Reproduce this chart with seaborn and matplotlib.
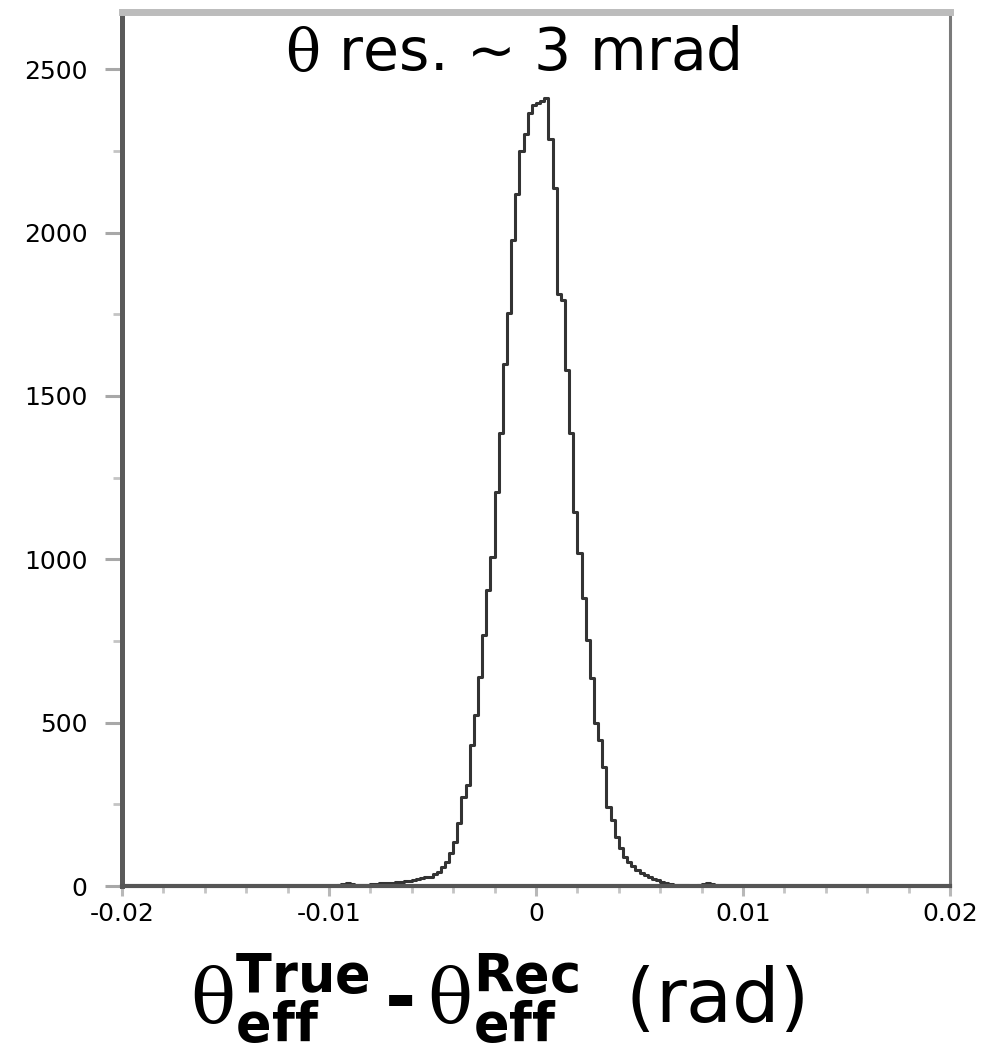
import numpy as np
import pandas as pd
import matplotlib
matplotlib.use("Agg")
import matplotlib.pyplot as plt
from matplotlib.ticker import MultipleLocator
import seaborn as sns

# ---------------- data ----------------
bin_width = 0.0002
range_lo, range_hi = -0.02, 0.02
core_lo = -0.0100  # first bin of the non-empty core region

counts_left = [0, 0, 2, 6, 10, 6, 3, 3, 4, 4,
               5, 6, 9, 10, 9, 10, 11, 12, 14, 16,
               18, 21, 24, 27, 29, 37, 43, 58, 73, 101,
               135, 193, 272, 309, 431, 523, 639, 768, 905, 1006,
               1205, 1388, 1599, 1755, 1976, 2119, 2251, 2303, 2367, 2391]
counts_right = [2395, 2404, 2413, 2287, 2135, 1813, 1795, 1578, 1388, 1144,
                1018, 881, 752, 636, 498, 446, 364, 242, 202, 150,
                115, 90, 72, 60, 50, 40, 33, 27, 22, 18,
                13, 9, 6, 4, 3, 2, 2, 1, 1, 2,
                6, 9, 5, 2, 1, 0, 0, 0, 0, 0]

yticks = [0, 500, 1000, 1500, 2000, 2500]
xticks = [-0.02, -0.01, 0.0, 0.01, 0.02]
xtick_labels = ["-0.02", "-0.01", "0", "0.01", "0.02"]
title_text = r"$\mathrm{\theta}$ res. ~ 3 mrad"
xlabel_text = (r"$\mathrm{\theta}_{\mathbf{eff}}^{\mathbf{True}}\,\mathbf{" + "\u2010" +
               r"}\,\mathrm{\theta}_{\mathbf{eff}}^{\mathbf{Rec}}\;$ (rad)")

# ---------------- build the histogram table ----------------
n_total = int(round((range_hi - range_lo) / bin_width))
edges = np.linspace(range_lo, range_hi, n_total + 1)
core = np.array(counts_left + counts_right, dtype=float)
start = int(round((core_lo - range_lo) / bin_width))
weights = np.zeros(n_total)
weights[start:start + len(core)] = core
centers = 0.5 * (edges[:-1] + edges[1:])
df = pd.DataFrame({"dtheta": centers, "n": weights})

# ---------------- figure ----------------
sns.set_style("ticks")
plt.rcParams["font.family"] = ["DejaVu Sans"]
plt.rcParams["mathtext.fontset"] = "custom"
plt.rcParams["mathtext.rm"] = "DejaVu Serif"
plt.rcParams["mathtext.it"] = "DejaVu Serif:italic"
plt.rcParams["mathtext.bf"] = "DejaVu Sans:bold"
plt.rcParams["mathtext.sf"] = "DejaVu Sans"

fig = plt.figure(figsize=(9.89, 10.55), dpi=100)
ax = fig.add_axes([122 / 989, 1 - 886 / 1055, (950 - 122) / 989, (886 - 12) / 1055])

sns.histplot(data=df, x="dtheta", weights="n", bins=n_total,
             binrange=(range_lo, range_hi), element="step",
             fill=False, color="#333333", linewidth=2.2, ax=ax)

ax.set_xlim(range_lo, range_hi)
ax.set_ylim(0, 2675)
ax.set_xticks(xticks)
ax.set_xticklabels(xtick_labels)
ax.set_yticks(yticks)
ax.xaxis.set_minor_locator(MultipleLocator(0.002))
ax.yaxis.set_minor_locator(MultipleLocator(250))
ax.set_xlabel("")
ax.set_ylabel("")

ax.tick_params(axis="x", which="major", direction="out", length=7.5, width=2.2,
               color="#b8b8b8", labelsize=18, pad=4, labelcolor="black")
ax.tick_params(axis="x", which="minor", direction="out", length=5, width=2,
               color="#c4c4c4")
ax.tick_params(axis="y", which="major", direction="out", length=12, width=2.2,
               color="#a8a8a8", labelsize=18, pad=13, labelcolor="black")
ax.tick_params(axis="y", which="minor", direction="out", length=6.5, width=2,
               color="#c4c4c4")

for side, col, lw in [("left", "#5a5a5a", 3.6), ("bottom", "#555555", 3.0),
                      ("right", "#7a7a7a", 2.2), ("top", "#bcbcbc", 5.0)]:
    ax.spines[side].set_visible(True)
    ax.spines[side].set_color(col)
    ax.spines[side].set_linewidth(lw)

fig.text(512 / 989, 1 - 53 / 1055, title_text, fontsize=42, ha="center",
         va="center", color="black")
fig.text(497 / 989, 1 - 1000 / 1055, xlabel_text, fontsize=54, ha="center",
         va="center", color="black")

fig.savefig("out.png", dpi=100)
